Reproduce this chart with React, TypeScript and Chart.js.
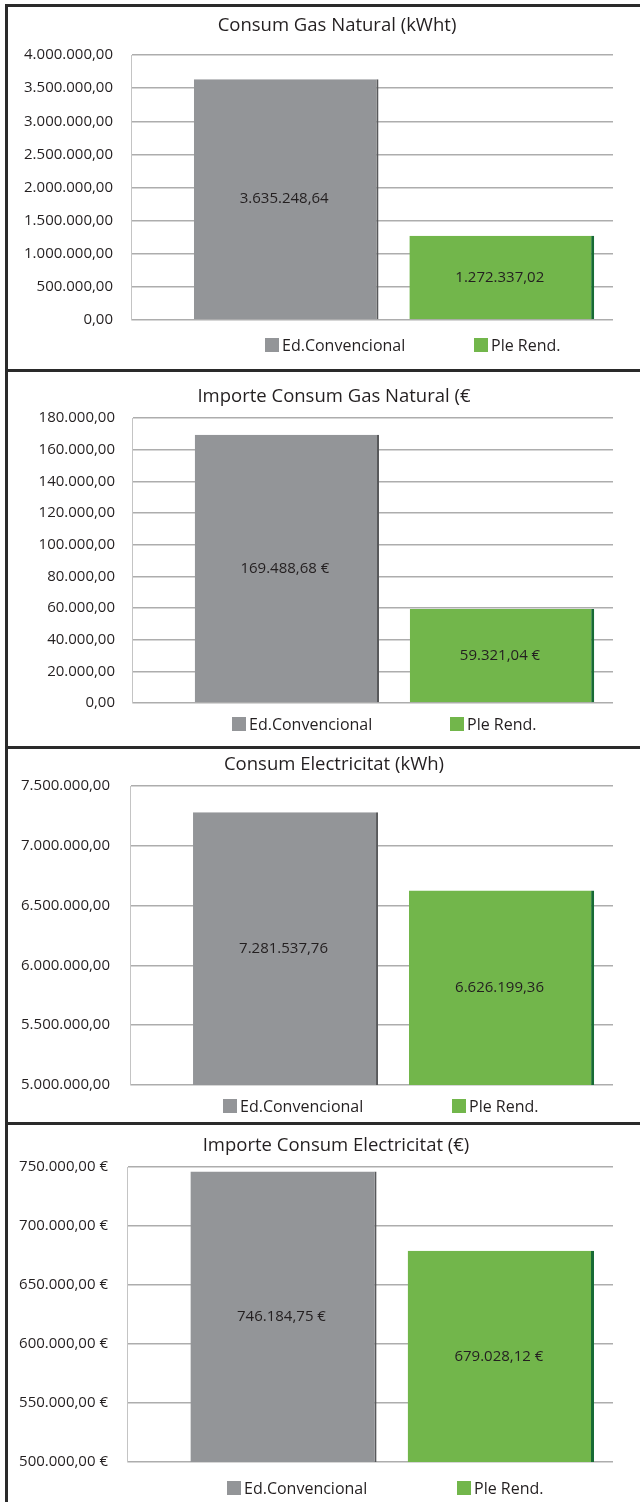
import React, { useEffect, useRef } from 'react';
import { Chart, registerables } from 'chart.js';

Chart.register(...registerables);

// ---- data ----
const seriesNames = ['Ed.Convencional', 'Ple Rend.'];
const chartTitles = [
  'Consum Gas Natural (kWht)',
  'Importe Consum Gas Natural (€',
  'Consum Electricitat (kWh)',
  'Importe Consum Electricitat (€)',
];
const gasConsumption = [3635248.64, 1272337.02];
const gasCost = [169488.68, 59321.04];
const electricityConsumption = [7281537.76, 6626199.36];
const electricityCost = [746184.75, 679028.12];
const axisMin = [0, 0, 5000000, 500000];
const axisMax = [4000000, 180000, 7500000, 750000];
const axisStep = [500000, 20000, 500000, 50000];
const tickSuffix = ['', '', '', ' €'];
const valueSuffix = ['', ' €', '', ' €'];
const seriesValues = [gasConsumption, gasCost, electricityConsumption, electricityCost];

// ---- style ----
const barColors = ['#939598', '#72b64b'];
const edgeColors = ['#58595b', '#176b35'];
const edgeWidths = [2, 3];
const textColor = '#231f20';
const FONT = "'Open Sans', 'DejaVu Sans', sans-serif";

// ---- layout (page pixels) ----
const PLOT_RIGHT = 613;
const panels = [
  { plotLeft: 131, plotTop: 55, plotBottom: 320, tickPad: 18, titleX: 337, titleY: 24, legendY: 344.5, legendX: [265, 474] },
  { plotLeft: 132, plotTop: 418, plotBottom: 703, tickPad: 17, titleX: 334, titleY: 395, legendY: 724, legendX: [232, 450] },
  { plotLeft: 130, plotTop: 786, plotBottom: 1085, tickPad: 20, titleX: 334, titleY: 763, legendY: 1105.5, legendX: [223, 452] },
  { plotLeft: 127, plotTop: 1167, plotBottom: 1462, tickPad: 19, titleX: 336, titleY: 1144, legendY: 1487.5, legendX: [227, 457] },
];
const frameLinesY = [4, 369, 746, 1122];

function fmt(v: number): string {
  const [i, d] = Math.abs(v).toFixed(2).split('.');
  return (v < 0 ? '-' : '') + i.replace(/\B(?=(\d{3})+(?!\d))/g, '.') + ',' + d;
}

const valueLabelPlugin = {
  id: 'valueLabels',
  afterDatasetsDraw(chart: any, _args: any, opts: any) {
    const ctx = chart.ctx;
    const area = chart.chartArea;
    ctx.save();
    ctx.font = `15px ${FONT}`;
    ctx.fillStyle = textColor;
    ctx.textAlign = 'center';
    ctx.textBaseline = 'middle';
    chart.data.datasets.forEach((ds: any, di: number) => {
      const meta = chart.getDatasetMeta(di);
      meta.data.forEach((el: any, i: number) => {
        const p = el.getProps(['x', 'y', 'base'], true);
        const top = Math.max(p.y, area.top);
        const bottom = Math.min(p.base, area.bottom);
        ctx.fillText(fmt(ds.data[i]) + (opts.suffix || ''), p.x - 2, (top + bottom) / 2);
      });
    });
    ctx.restore();
  },
};

const PAD = 40;

function Panel({ idx }: { idx: number }) {
  const ref = useRef<HTMLCanvasElement>(null);
  const g = panels[idx];
  const height = g.plotBottom - g.plotTop + PAD * 2;
  useEffect(() => {
    if (!ref.current) return;
    const values = seriesValues[idx];
    const chart = new Chart(ref.current, {
      type: 'bar',
      data: {
        labels: [''],
        datasets: seriesNames.map((name, k) => ({
          label: name,
          data: [values[k]],
          backgroundColor: barColors[k],
          borderColor: edgeColors[k],
          borderWidth: { top: 0, right: edgeWidths[k], bottom: 0, left: 0 },
          borderSkipped: false,
          categoryPercentage: k === 0 ? 0.712 : 1.077,
          barPercentage: k === 0 ? 1.076 : 0.712,
        })),
      },
      options: {
        responsive: false,
        animation: false,
        devicePixelRatio: 1,
        layout: { padding: { top: PAD, bottom: PAD, left: 0, right: 640 - PLOT_RIGHT } },
        plugins: {
          legend: { display: false },
          title: { display: false },
          tooltip: { enabled: false },
          valueLabels: { suffix: valueSuffix[idx] },
        } as any,
        scales: {
          x: { display: false },
          y: {
            min: axisMin[idx],
            max: axisMax[idx],
            afterFit: (s: any) => { s.width = g.plotLeft; },
            ticks: {
              stepSize: axisStep[idx],
              padding: g.tickPad,
              color: textColor,
              font: { family: FONT, size: 15 },
              callback: (v: any) => fmt(Number(v)) + tickSuffix[idx],
            },
            grid: { color: '#adadad', lineWidth: 1.5, drawTicks: false },
            border: { display: true, color: '#c4c4c4', width: 1 },
          },
        },
      },
      plugins: [valueLabelPlugin],
    });
    return () => chart.destroy();
  }, [idx]);

  return (
    <>
      <canvas
        ref={ref}
        width={640}
        height={height}
        style={{ position: 'absolute', left: 0, top: g.plotTop - PAD, width: 640, height }}
      />
      <div
        style={{
          position: 'absolute', left: g.titleX - 250, width: 500, top: g.titleY - 14, height: 28,
          lineHeight: '28px', textAlign: 'center', fontFamily: FONT, fontSize: 18.5, color: textColor,
          whiteSpace: 'nowrap',
        }}
      >
        {chartTitles[idx]}
      </div>
      {seriesNames.map((name, k) => (
        <React.Fragment key={k}>
          <div
            style={{
              position: 'absolute', left: g.legendX[k], top: g.legendY - 7, width: 14, height: 14,
              background: barColors[k],
            }}
          />
          <div
            style={{
              position: 'absolute', left: g.legendX[k] + 17, top: g.legendY - 12, height: 24,
              lineHeight: '24px', fontFamily: FONT, fontSize: 16, color: textColor, whiteSpace: 'nowrap',
            }}
          >
            {name}
          </div>
        </React.Fragment>
      ))}
    </>
  );
}

export default function App() {
  return (
    <div
      style={{
        position: 'absolute', left: 0, top: 0, width: 640, height: 1502, overflow: 'hidden',
        background: '#ffffff',
      }}
    >
      <div style={{ position: 'absolute', left: 5, top: 4, width: 3, height: 1502, background: '#2a2a2a' }} />
      {frameLinesY.map((y, i) => (
        <div key={i} style={{ position: 'absolute', left: 5, top: y, width: 640, height: 3, background: '#2a2a2a' }} />
      ))}
      {panels.map((_, i) => (
        <Panel key={i} idx={i} />
      ))}
    </div>
  );
}
